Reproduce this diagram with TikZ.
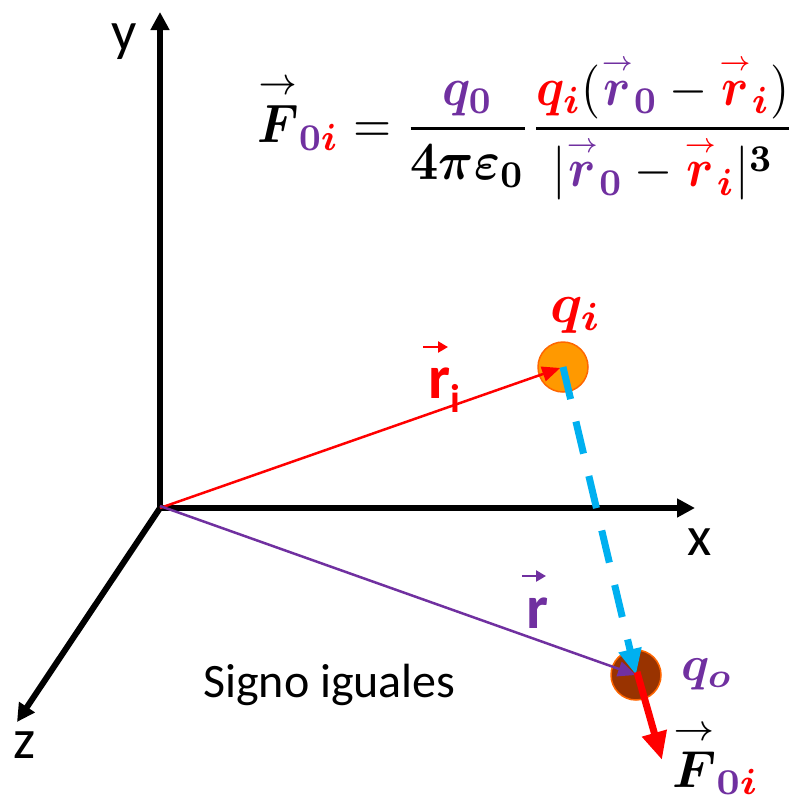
\documentclass[tikz,border=0pt]{standalone}
\usepackage{fontspec}
\usepackage{amsmath}
\usepackage{bm}
\usepackage{graphicx}
\usetikzlibrary{arrows.meta, positioning}
\newfontfamily\calibri{Carlito}
\definecolor{VecPurple}{HTML}{7030A0}
\definecolor{DashCyan}{HTML}{00B0F0}
\definecolor{ChargeOrange}{HTML}{FF9900}
\definecolor{ChargeBrown}{HTML}{993300}
\definecolor{RimOrange}{HTML}{FF6600}
\newcommand{\cpur}[1]{\textcolor{VecPurple}{#1}}
\newcommand{\cred}[1]{\textcolor{red}{#1}}
\newcommand{\arr}[1]{\overset{\scriptscriptstyle\rightarrow}{#1}}
\newcommand{\arrF}{\overset{\scriptstyle\rightarrow}{\bm{F}}}

\begin{document}
\begin{tikzpicture}[
    x=1pt, y=-1pt,
    >=Triangle,
    axis/.style={
        draw=black,
        line width=6pt,
        ->,
        >={Triangle[length=18pt, width=18pt]}
    },
    posvec/.style={
        line width=2.5pt,
        ->,
        >={Triangle[length=18pt, width=15pt]}
    },
    coulomb/.style={
        draw=DashCyan,
        line width=7pt,
        dash pattern=on 33pt off 23pt,
        ->,
        >={Triangle[length=26pt, width=22pt]}
    },
    force/.style={
        draw=red,
        line width=7pt,
        ->,
        >={Triangle[length=28pt, width=24pt]}
    },
    charge/.style={
        circle,
        minimum size=50pt,
        inner sep=0pt,
        line width=1.5pt,
        draw=RimOrange
    },
    axislabel/.style={
        font=\calibri\fontsize{56}{60}\selectfont,
        inner sep=0pt,
        anchor=base
    },
    veclabel/.style={
        font=\calibri\bfseries\fontsize{62}{66}\selectfont,
        inner sep=0pt,
        anchor=base west
    },
    vectick/.style={
        line width=2.5pt,
        ->,
        >={Triangle[length=10pt, width=11pt]}
    }
]

\useasboundingbox (0,0) rectangle (795,803);

% axes
\coordinate (O) at (160,508);
\coordinate (xend) at (695,508);
\coordinate (yend) at (160,12);
\coordinate (zend) at (17,722);

\draw[axis] ([yshift=-3pt]O) -- (yend);
\draw[axis] (O) -- (xend);
\draw[axis] (O) -- (zend);

\node[axislabel] (ylab) at (124,50) {y};
\node[axislabel] (xlab) at (700,555) {x};
\node[axislabel] (zlab) at (25,758) {z};

% charges
\node[charge, fill=ChargeOrange] (qi) at (563,367) {};
\node[charge, fill=ChargeBrown] (qo) at (636,675) {};

\node[red, inner sep=0pt, anchor=base west] (qilab) at (550,322)
    {\scalebox{5.6}{$\bm{q}_{\bm{i}}$}};
\node[VecPurple, inner sep=0pt, anchor=base west] (qolab) at (681,680)
    {\scalebox{4.9}{$\bm{q}_{\bm{o}}$}};

% position vectors
\draw[posvec, red, shorten >=3pt] (O) -- (qi.center);
\draw[posvec, VecPurple] ([yshift=2pt]O) -- (qo.center);

\node[veclabel, red] (rilab) at (428,398)
    {r\raisebox{-14pt}{\fontsize{40}{44}\selectfont i}};
\coordinate (riA) at (423,347);
\coordinate (riB) at (448,347);
\draw[vectick, red] (riA) -- (riB);

\node[veclabel, VecPurple] (rlab) at (526,628) {r};
\coordinate (rA) at (522,576);
\coordinate (rB) at (546,576);
\draw[vectick, VecPurple] (rA) -- (rB);

% interaction and force
\draw[coulomb] (qi.center) -- (qo.center);
\coordinate (Ftip) at (662,760);
\draw[force] ([shift={(1pt,3pt)}]qo.center) -- (Ftip);

\node[inner sep=0pt, anchor=base west] (Flab) at (672,787)
    {\scalebox{5.2}{$\arrF_{\cpur{\bm{0}}\cred{\bm{i}}}$}};

\node[inner sep=0pt, anchor=base west] (sign) at (203,697)
    {\calibri\fontsize{48}{52}\selectfont Signo iguales};

% Coulomb law
\node[inner sep=0pt, anchor=base west] (law) at (257,142)
    {\scalebox{4.9}[5.4]{$\displaystyle
    \arrF_{\cpur{\bm{0}}\cred{\bm{i}}}
    = \frac{\cpur{\bm{q}_{\bm{0}}}}{\bm{4\pi\varepsilon_0}}
    \frac{\cred{\bm{q}_{\bm{i}}}(\cpur{\arr{\bm{r}}_{\bm{0}}}
    - \cred{\arr{\bm{r}}_{\bm{i}}})}
    {|\cpur{\arr{\bm{r}}_{\bm{0}}}
    - \cred{\arr{\bm{r}}_{\bm{i}}}|^{\bm{3}}}$}};

\end{tikzpicture}
\end{document}
